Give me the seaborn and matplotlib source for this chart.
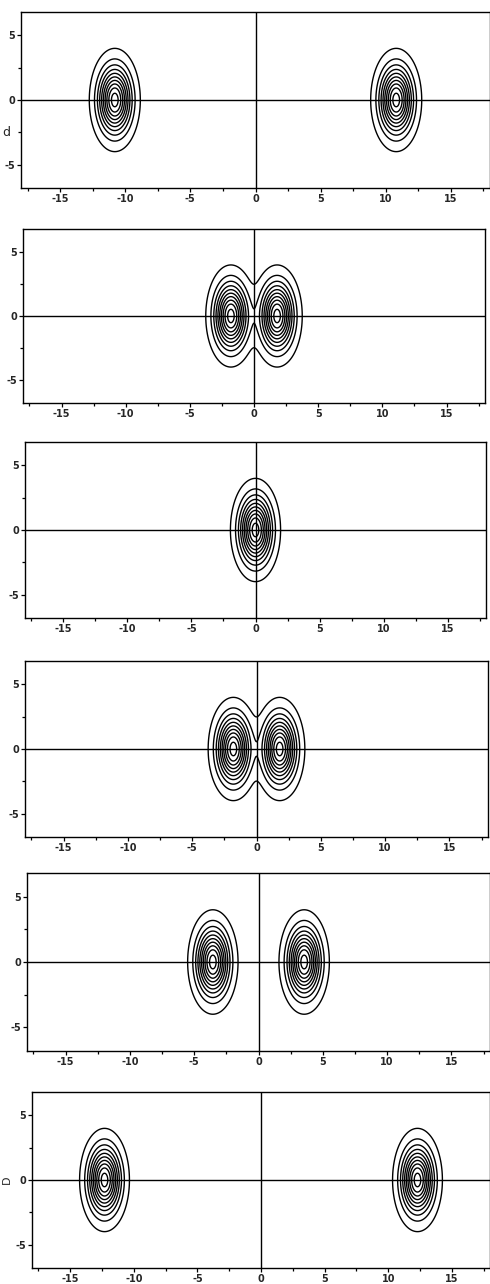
import numpy as np
import matplotlib
matplotlib.use("Agg")
import matplotlib.pyplot as plt
import seaborn as sns
from matplotlib.ticker import MultipleLocator

# blob centres (x) for each of the six stacked panels
panel_centres = [
    [-10.8, 10.8],
    [-1.8, 1.8],
    [0.0],
    [-1.8, 1.8],
    [-3.55, 3.55],
    [-12.3, 12.3],
]
sigma_x = 0.8
sigma_y = 1.63
contour_levels = [0.05, 0.15, 0.25, 0.35, 0.45, 0.55, 0.65, 0.75, 0.85, 0.95]

x_ticks = [-15, -10, -5, 0, 5, 10, 15]
y_ticks = [-5, 0, 5]
x_limits = (-18, 18)
y_limits = (-6.8, 6.8)

# axes boxes in pixels: left, top, right, bottom
panel_boxes = [
    (21, 12, 490, 188),
    (23, 229, 485, 403),
    (25, 442, 486, 618),
    (25, 661, 488, 837),
    (27, 873, 490, 1051),
    (32, 1092, 490, 1268),
]

W, H = 490, 1284

sns.set_theme(style="ticks")
plt.rcParams["font.family"] = ["DejaVu Sans"]
plt.rcParams["axes.unicode_minus"] = False

fig = plt.figure(figsize=(W / 100, H / 100), dpi=100)

xs = np.linspace(x_limits[0], x_limits[1], 721)
ys = np.linspace(-7, 7, 281)
X, Y = np.meshgrid(xs, ys)

for centres, (l, t, r, b) in zip(panel_centres, panel_boxes):
    ax = fig.add_axes([l / W, 1 - b / H, (r - l) / W, (b - t) / H])
    Z = np.zeros_like(X)
    for c in centres:
        Z += np.exp(-(X - c) ** 2 / (2 * sigma_x ** 2) - Y ** 2 / (2 * sigma_y ** 2))
    ax.contour(X, Y, Z, levels=contour_levels, colors="black", linewidths=1.0)
    ax.axhline(0, color="black", lw=1.0)
    ax.axvline(0, color="black", lw=1.0)

    ax.set_xlim(*x_limits)
    ax.set_ylim(*y_limits)
    ax.set_xticks(x_ticks)
    ax.set_yticks(y_ticks)
    ax.xaxis.set_minor_locator(MultipleLocator(2.5))
    ax.yaxis.set_minor_locator(MultipleLocator(2.5))
    ax.tick_params(which="major", direction="out", length=3, width=0.9,
                   labelsize=7, pad=1.5, color="black")
    ax.tick_params(which="minor", direction="out", length=2.5, width=0.9,
                   color="black")
    for lab in ax.get_xticklabels() + ax.get_yticklabels():
        lab.set_fontweight("bold")
    for sp in ax.spines.values():
        sp.set_color("black")
        sp.set_linewidth(1.0)

# stray panel marks at the left edge
fig.text(2 / W, 1 - 132 / H, "d", fontsize=9, ha="left", va="center")
fig.text(2 / W, 1 - 1180 / H, "D", fontsize=8, ha="left", va="center", rotation=90)

fig.savefig("out.png", dpi=100)
